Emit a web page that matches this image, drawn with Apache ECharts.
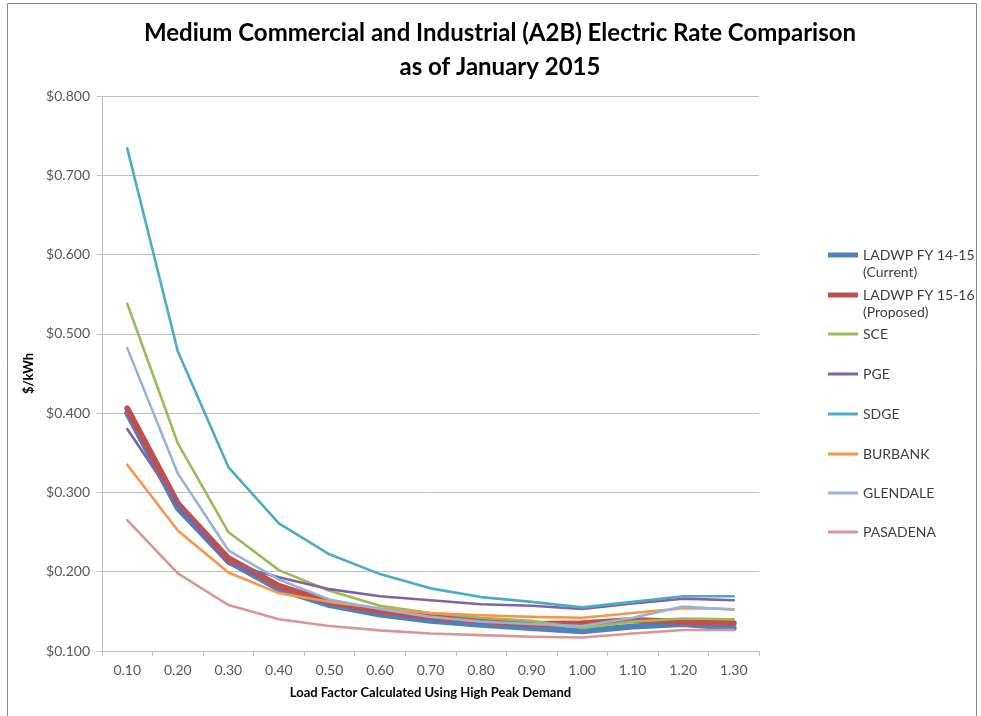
<!DOCTYPE html>
<html>
<head>
<meta charset="utf-8">
<script src="https://cdn.jsdelivr.net/npm/echarts@6/dist/echarts.min.js"></script>
<style>
html,body{margin:0;padding:0;background:#fff;overflow:hidden;}
#chart{width:981px;height:716px;}
</style>
</head>
<body>
<div id="chart"></div>
<script>
var categories = ['0.10','0.20','0.30','0.40','0.50','0.60','0.70','0.80','0.90','1.00','1.10','1.20','1.30'];

var ladwp1415 = [0.400,0.280,0.213,0.178,0.158,0.146,0.138,0.133,0.129,0.125,0.131,0.134,0.129];
var ladwp1516 = [0.406,0.286,0.217,0.182,0.162,0.150,0.143,0.138,0.134,0.135,0.139,0.137,0.135];
var sce       = [0.538,0.362,0.250,0.202,0.176,0.157,0.148,0.142,0.138,0.129,0.137,0.141,0.140];
var pge       = [0.380,0.285,0.210,0.193,0.178,0.169,0.164,0.159,0.157,0.153,0.160,0.166,0.164];
var sdge      = [0.734,0.478,0.332,0.261,0.222,0.197,0.179,0.168,0.162,0.155,0.162,0.169,0.169];
var burbank   = [0.335,0.252,0.199,0.173,0.162,0.154,0.148,0.145,0.143,0.142,0.148,0.154,0.153];
var glendale  = [0.482,0.324,0.227,0.190,0.165,0.153,0.143,0.137,0.134,0.1315,0.142,0.156,0.152];
var pasadena  = [0.265,0.198,0.158,0.140,0.1315,0.126,0.122,0.120,0.118,0.117,0.122,0.1265,0.1265];

var seriesNames = ['LADWP FY 14-15\n(Current)','LADWP FY 15-16\n(Proposed)','SCE','PGE','SDGE','BURBANK','GLENDALE','PASADENA'];
var seriesData = [ladwp1415, ladwp1516, sce, pge, sdge, burbank, glendale, pasadena];
var seriesColors = ['#4F81BD','#C0504D','#9BBB59','#8064A2','#4BACC6','#F79646','#95B3D7','#D99694'];
var seriesWidths = [6,6,2.6,2.6,2.6,2.6,2.6,2.6];

var yTickMin = 0.1, yTickMax = 0.8, yTickStep = 0.1;

var FONT = 'Lato, "Open Sans", sans-serif';

var chart = echarts.init(document.getElementById('chart'), null, {renderer:'canvas', width:981, height:716});

var legendCenters = [255,295,334,374,414,454,493,532];
var LH = 17;
var legends = seriesNames.map(function(n,i){
  var two = n.indexOf('\n') >= 0;
  return {
    type:'plain',
    orient:'vertical',
    data:[{name:n, icon:'rect'}],
    left:828,
    top: two ? legendCenters[i] - LH*1.5 : legendCenters[i] - LH/2,
    itemWidth:30,
    itemHeight: seriesWidths[i] > 4 ? 5 : 3,
    itemGap:0,
    padding:0,
    selectedMode:false,
    formatter: function(name){
      return name.indexOf('\n') >= 0 ? ' \n' + name : name;
    },
    textStyle:{
      fontFamily:FONT, fontSize:14, color:'#404040', lineHeight:LH
    }
  };
});

var option = {
  backgroundColor:'#ffffff',
  animation:false,
  title:{
    text:'Medium Commercial and Industrial (A2B) Electric Rate Comparison\nas of January 2015',
    left:495,
    top:11,
    textAlign:'center',
    textStyle:{fontFamily:FONT,fontSize:24,fontWeight:'bold',color:'#000',lineHeight:34}
  },
  legend:legends,
  grid:{left:102,right:222,top:96,bottom:65,containLabel:false},
  xAxis:{
    type:'category',
    data:categories,
    boundaryGap:true,
    name:'Load Factor Calculated Using High Peak Demand',
    nameLocation:'middle',
    nameGap:35,
    nameTextStyle:{fontFamily:FONT,fontSize:13,fontWeight:'bold',color:'#000'},
    axisLine:{lineStyle:{color:'#BFBFBF',width:1}},
    axisTick:{show:true,length:5,inside:false,lineStyle:{color:'#BFBFBF'}},
    axisLabel:{fontFamily:FONT,fontSize:14,color:'#595959',margin:12}
  },
  yAxis:{
    type:'value',
    min:yTickMin,max:yTickMax,interval:yTickStep,
    name:'$/kWh',
    nameLocation:'middle',
    nameGap:67,
    nameRotate:90,
    nameTextStyle:{fontFamily:FONT,fontSize:13,fontWeight:'bold',color:'#000'},
    axisLine:{show:true,lineStyle:{color:'#BFBFBF',width:1}},
    axisTick:{show:true,length:5,lineStyle:{color:'#BFBFBF'}},
    axisLabel:{fontFamily:FONT,fontSize:14,color:'#595959',margin:12,
      formatter:function(v){return '$'+v.toFixed(3);}},
    splitLine:{show:true,lineStyle:{color:'#BFBFBF',width:1}}
  },
  graphic:[{
    type:'rect',
    shape:{x:7.5,y:3.5,width:969,height:730},
    style:{fill:'none',stroke:'#8c8c8c',lineWidth:1},
    silent:true
  }],
  series:seriesNames.map(function(n,i){
    return {
      name:n,
      type:'line',
      data:seriesData[i],
      symbol:'none',
      showSymbol:false,
      smooth:false,
      lineStyle:{color:seriesColors[i],width:seriesWidths[i],cap:'round',join:'round'},
      itemStyle:{color:seriesColors[i]},
      emphasis:{disabled:true}
    };
  })
};
chart.setOption(option);
</script>
</body>
</html>
